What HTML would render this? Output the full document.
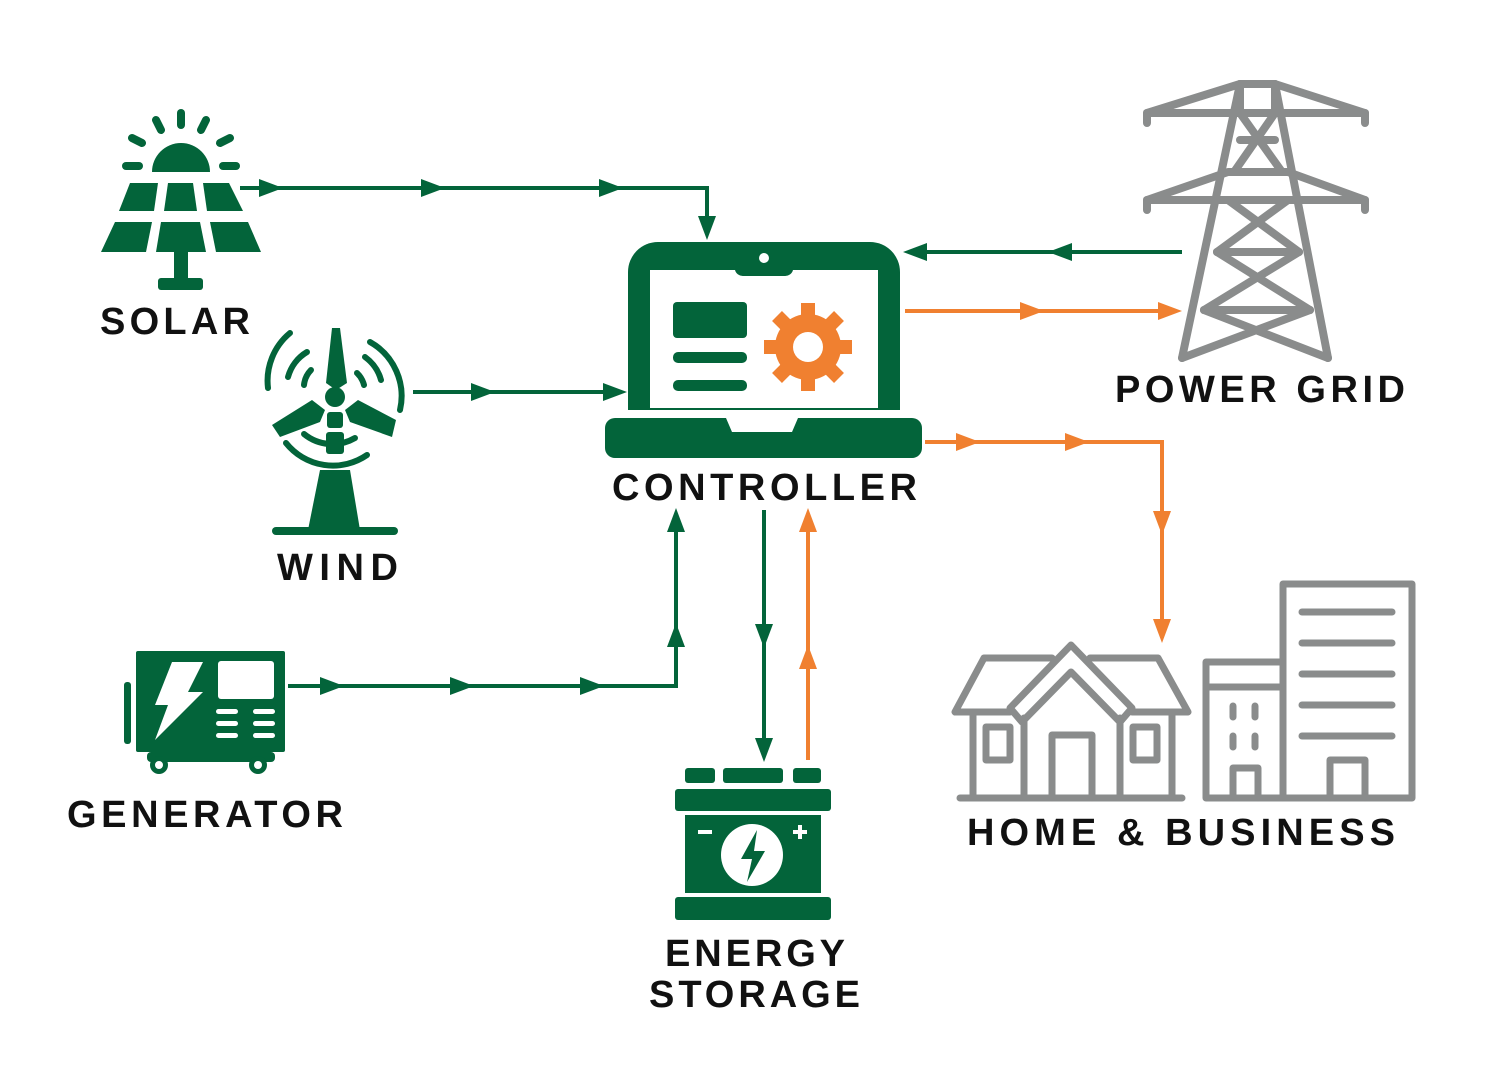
<!DOCTYPE html>
<html><head><meta charset="utf-8"><style>html,body{margin:0;padding:0;background:#fff}svg{display:block}</style></head><body>
<svg width="1500" height="1080" viewBox="0 0 1500 1080" xmlns="http://www.w3.org/2000/svg">
<defs>
<g id="ar"><polygon points="0,0 -24,-9 -24,9"/></g>
</defs>
<g fill="none" stroke-width="4">
<polyline stroke="#03643a" points="240,188 707,188 707,232"/>
<line stroke="#03643a" x1="413" y1="392" x2="620" y2="392"/>
<line stroke="#03643a" x1="1182" y1="252" x2="910" y2="252"/>
<line stroke="#f08030" x1="905" y1="311" x2="1175" y2="311"/>
<polyline stroke="#f08030" points="925,442 1162,442 1162,638"/>
<line stroke="#03643a" x1="764" y1="510" x2="764" y2="755"/>
<line stroke="#f08030" x1="808" y1="760" x2="808" y2="515"/>
<polyline stroke="#03643a" points="288,686 676,686 676,515"/>
</g>
<g fill="#03643a">
<use href="#ar" transform="translate(283,188)"/><use href="#ar" transform="translate(445,188)"/><use href="#ar" transform="translate(623,188)"/>
<use href="#ar" transform="translate(707,240) rotate(90)"/>
<use href="#ar" transform="translate(495,392)"/><use href="#ar" transform="translate(627,392)"/>
<use href="#ar" transform="translate(1048,252) rotate(180)"/><use href="#ar" transform="translate(903,252) rotate(180)"/>
<use href="#ar" transform="translate(764,648) rotate(90)"/><use href="#ar" transform="translate(764,762) rotate(90)"/>
<use href="#ar" transform="translate(344,686)"/><use href="#ar" transform="translate(474,686)"/><use href="#ar" transform="translate(604,686)"/>
<use href="#ar" transform="translate(676,623) rotate(-90)"/><use href="#ar" transform="translate(676,508) rotate(-90)"/>
</g>
<g fill="#f08030">
<use href="#ar" transform="translate(1044,311)"/><use href="#ar" transform="translate(1182,311)"/>
<use href="#ar" transform="translate(980,442)"/><use href="#ar" transform="translate(1089,442)"/>
<use href="#ar" transform="translate(1162,535) rotate(90)"/><use href="#ar" transform="translate(1162,643) rotate(90)"/>
<use href="#ar" transform="translate(808,645) rotate(-90)"/><use href="#ar" transform="translate(808,508) rotate(-90)"/>
</g>

<!-- solar -->
<g fill="#03643a">
<path d="M152,172 A29,29 0 0 1 210,172 Z"/>
<g stroke="#03643a" stroke-width="8" stroke-linecap="round">
<line x1="181" y1="113" x2="181" y2="125"/><line x1="156" y1="120" x2="161" y2="130"/><line x1="206" y1="120" x2="201" y2="130"/>
<line x1="132" y1="138" x2="142" y2="143"/><line x1="230" y1="138" x2="220" y2="143"/>
<line x1="126" y1="166" x2="139" y2="166"/><line x1="223" y1="166" x2="236" y2="166"/>
</g>
<polygon points="130,183 158,183 154,211 119,211"/><polygon points="168,183 193,183 197,211 164,211"/><polygon points="203,183 229,183 243,211 207,211"/>
<polygon points="115,222 152,222 146,252 101,252"/><polygon points="161,222 200,222 206,252 156,252"/><polygon points="210,222 248,222 261,252 216,252"/>
<rect x="174" y="252" width="14" height="28"/><rect x="158" y="278" width="45" height="12" rx="3"/>
</g>
<!-- wind -->
<g fill="#03643a">
<g fill="none" stroke="#03643a" stroke-width="6" stroke-linecap="round">
<path d="M290,333 A62,62 0 0 0 268,388"/><path d="M370,342 A62,62 0 0 1 400,410"/>
<path d="M307,352 A42,42 0 0 0 288,377"/><path d="M365,357 A42,42 0 0 1 381,380"/>
<path d="M311,370 A25,25 0 0 0 304,385"/><path d="M357,373 A25,25 0 0 1 364,385"/>
<path d="M286,443 A60,60 0 0 0 367,455"/><path d="M304,434 A45,45 0 0 0 355,438"/>
</g>
<polygon points="332,328 340,328 347,383 336,390 326,383"/>
<polygon points="272,425 312,400 325,410 320,422 280,437"/>
<polygon points="358,400 396,420 392,437 350,422 345,410"/>
<circle cx="335" cy="397" r="10"/>
<rect x="327" y="412" width="16" height="16" rx="3"/><rect x="326" y="432" width="18" height="22" rx="3"/>
<polygon points="320,470 350,470 360,530 308,530"/>
<rect x="272" y="527" width="126" height="8" rx="4"/>
</g>
<!-- generator -->
<g fill="#03643a">
<rect x="124" y="682" width="7" height="62" rx="3"/>
<rect x="136" y="651" width="149" height="101" rx="2"/>
<rect x="147" y="752" width="128" height="10" rx="4"/>
<circle cx="159" cy="765" r="9"/><circle cx="258" cy="765" r="9"/>
</g>
<g fill="#fff">
<circle cx="159" cy="765" r="4"/><circle cx="258" cy="765" r="4"/>
<polygon points="172,662 203,662 188,692 203,692 155,740 168,705 155,705"/>
<rect x="218" y="661" width="56" height="38" rx="3"/>
<rect x="216" y="709" width="22" height="5" rx="2.5"/><rect x="253" y="709" width="22" height="5" rx="2.5"/>
<rect x="216" y="721" width="22" height="5" rx="2.5"/><rect x="253" y="721" width="22" height="5" rx="2.5"/>
<rect x="216" y="733" width="22" height="5" rx="2.5"/><rect x="253" y="733" width="22" height="5" rx="2.5"/>
</g>
<!-- laptop -->
<g fill="#03643a">
<path d="M658,242 H870 A30,30 0 0 1 900,272 V410 H628 V272 A30,30 0 0 1 658,242 Z"/>
<path d="M615,418 H726 L732,432 H792 L798,418 H912 A10,10 0 0 1 922,428 V448 A10,10 0 0 1 912,458 H615 A10,10 0 0 1 605,448 V428 A10,10 0 0 1 615,418 Z"/>
</g>
<path fill="#fff" d="M650,270 H735 A8,8 0 0 0 743,276 H785 A8,8 0 0 0 793,270 H878 V408 H650 Z"/>
<circle cx="764" cy="258" r="5" fill="#fff"/>
<g fill="#03643a"><rect x="673" y="302" width="74" height="36" rx="4"/><rect x="673" y="352" width="74" height="11" rx="5"/><rect x="673" y="380" width="74" height="11" rx="5"/></g>
<g fill="#f08030"><circle cx="808" cy="347" r="33"/>
<g stroke="#f08030" stroke-width="14"><line x1="808" y1="303" x2="808" y2="391"/><line x1="764" y1="347" x2="852" y2="347"/><line x1="777" y1="316" x2="839" y2="378"/><line x1="839" y1="316" x2="777" y2="378"/></g></g>
<circle cx="808" cy="347" r="15" fill="#fff"/>
<!-- battery -->
<g fill="#03643a">
<rect x="685" y="768" width="30" height="15" rx="3"/><rect x="723" y="768" width="60" height="15" rx="3"/><rect x="793" y="768" width="28" height="15" rx="3"/>
<rect x="675" y="789" width="156" height="22" rx="3"/><rect x="685" y="815" width="136" height="78"/><rect x="675" y="897" width="156" height="23" rx="3"/>
</g>
<circle cx="752" cy="855" r="31" fill="#fff"/>
<polygon fill="#03643a" points="757,830 741,859 752,859 747,882 765,851 754,851" />
<g stroke="#fff" stroke-width="4"><line x1="698" y1="832" x2="712" y2="832"/><line x1="793" y1="832" x2="807" y2="832"/><line x1="800" y1="825" x2="800" y2="839"/></g>
<!-- tower -->
<g fill="none" stroke="#8a8c8c" stroke-width="8" stroke-linejoin="round" stroke-linecap="round">
<polyline points="1147,123 1147,113 1240,84 1275,84 1365,113 1365,123"/>
<line x1="1147" y1="113" x2="1365" y2="113"/>
<polyline points="1147,210 1147,200 1228,172 1288,172 1365,200 1365,210"/>
<line x1="1147" y1="200" x2="1365" y2="200"/>
<line x1="1240" y1="84" x2="1182" y2="358"/><line x1="1275" y1="84" x2="1328" y2="358"/>
<line x1="1240" y1="84" x2="1240" y2="113"/><line x1="1275" y1="84" x2="1275" y2="113"/>
<line x1="1240" y1="113" x2="1282" y2="172"/><line x1="1275" y1="113" x2="1234" y2="172"/>
<line x1="1228" y1="200" x2="1299" y2="252"/><line x1="1288" y1="200" x2="1217" y2="252"/>
<line x1="1217" y1="252" x2="1299" y2="252"/>
<line x1="1217" y1="252" x2="1310" y2="310"/><line x1="1299" y1="252" x2="1204" y2="310"/>
<line x1="1204" y1="310" x2="1310" y2="310"/>
<line x1="1204" y1="310" x2="1328" y2="358"/><line x1="1310" y1="310" x2="1182" y2="358"/>
<line x1="1240" y1="140" x2="1275" y2="140"/>
</g>
<!-- home & business -->
<g fill="none" stroke="#8a8c8c" stroke-width="7" stroke-linejoin="round" stroke-linecap="round">
<polyline points="1052,658 984,658 955,712 1010,712"/><polyline points="1090,658 1158,658 1188,712 1132,712"/>
<polygon points="1010,708 1071,645 1132,708 1120,722 1071,672 1022,722"/>
<line x1="973" y1="712" x2="973" y2="798"/><line x1="1024" y1="718" x2="1024" y2="798"/><line x1="1120" y1="718" x2="1120" y2="798"/><line x1="1172" y1="712" x2="1172" y2="798"/>
<line x1="960" y1="798" x2="1182" y2="798"/>
<rect x="986" y="727" width="24" height="33"/><rect x="1133" y="727" width="24" height="33"/>
<polyline points="1052,798 1052,735 1092,735 1092,798"/>
<rect x="1206" y="662" width="77" height="136"/><line x1="1206" y1="687" x2="1283" y2="687"/>
<rect x="1283" y="584" width="129" height="214"/>
<line x1="1302" y1="612" x2="1392" y2="612"/><line x1="1302" y1="643" x2="1392" y2="643"/><line x1="1302" y1="674" x2="1392" y2="674"/><line x1="1302" y1="705" x2="1392" y2="705"/><line x1="1302" y1="736" x2="1392" y2="736"/>
<line x1="1233" y1="706" x2="1233" y2="717"/><line x1="1255" y1="706" x2="1255" y2="717"/><line x1="1233" y1="736" x2="1233" y2="747"/><line x1="1255" y1="736" x2="1255" y2="747"/>
<polyline points="1233,798 1233,768 1258,768 1258,798"/><polyline points="1330,798 1330,760 1365,760 1365,798"/>
</g>
<!-- labels -->
<g font-family="Liberation Sans, sans-serif" font-weight="bold" font-size="38" fill="#111">
<text x="100" y="334" textLength="150" lengthAdjust="spacing">SOLAR</text>
<text x="277" y="580" textLength="121" lengthAdjust="spacing">WIND</text>
<text x="612" y="500" textLength="305" lengthAdjust="spacing">CONTROLLER</text>
<text x="1115" y="402" textLength="290" lengthAdjust="spacing">POWER GRID</text>
<text x="67" y="827" textLength="276" lengthAdjust="spacing">GENERATOR</text>
<text x="967" y="845" textLength="428" lengthAdjust="spacing">HOME &amp; BUSINESS</text>
<text x="665" y="966" textLength="180" lengthAdjust="spacing">ENERGY</text>
<text x="649" y="1007" textLength="211" lengthAdjust="spacing">STORAGE</text>
</g>
</svg>
</body></html>
